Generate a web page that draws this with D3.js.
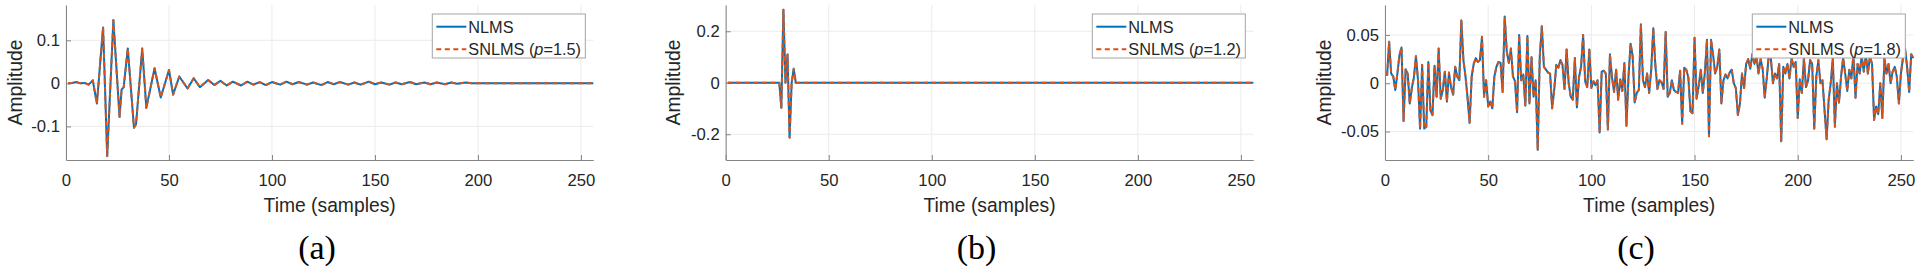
<!DOCTYPE html>
<html><head><meta charset="utf-8">
<script src="https://cdn.jsdelivr.net/npm/d3@7"></script>
<style>
body{margin:0;background:#fff}
svg{display:block}
text{font-family:"Liberation Sans",Arial,Helvetica,sans-serif;fill:#262626}
</style>
</head><body>
<svg id="chart" width="1920" height="274"></svg>
<script>
// ---------------- data ----------------
const xTicks = [0, 50, 100, 150, 200, 250];
const yTicksA = [-0.1, 0, 0.1];
const yTicksB = [-0.2, 0, 0.2];
const yTicksC = [-0.05, 0, 0.05];
const captions = ["(a)", "(b)", "(c)"];
const seriesNames = ["NLMS", "SNLMS"];
const pValues = ["1.5", "1.2", "1.8"];

// (a) sample index / amplitude (vertices)
const timeA = [1,3,5,7,9,11,13,15,18,20,23,26,27,28,30,33,34,37,39,43,46,50,52,55,59,62,65,69,72,75,78,81,85,88,91,94,97,100,104,107,110,113,117,120,124,127,130,133,137,140,143,147,150,153,157,160,163,167,170,174,177,180,184,187,190,194,197,256];
const nlmsA = [0,0.001,0.003,0,0.001,-0.003,0.007,-0.047,0.130,-0.169,0.147,-0.078,-0.014,-0.009,0.081,-0.103,-0.095,0.081,-0.057,0.035,-0.033,0.031,-0.026,0.016,-0.012,0.012,-0.009,0.008,-0.004,0.006,-0.005,0.004,-0.005,0.004,-0.003,0.003,-0.004,0.003,-0.003,0.004,-0.002,0.003,-0.003,0.002,-0.004,0.003,-0.002,0.003,-0.003,0.002,-0.003,0.004,-0.002,0.002,-0.003,0.002,-0.002,0.003,-0.002,0.002,-0.002,0.002,-0.002,0.002,-0.001,0.002,0,0];
const snlmsA = [0,0.001,0.003,0,0.001,-0.003,0.007,-0.047,0.130,-0.169,0.147,-0.078,-0.014,-0.009,0.081,-0.103,-0.095,0.081,-0.057,0.035,-0.033,0.031,-0.026,0.016,-0.012,0.012,-0.009,0.008,-0.004,0.006,-0.005,0.004,-0.005,0.004,-0.003,0.003,-0.004,0.003,-0.003,0.004,-0.002,0.003,-0.003,0.002,-0.004,0.003,-0.002,0.003,-0.003,0.002,-0.003,0.004,-0.002,0.002,-0.003,0.002,-0.002,0.003,-0.002,0.002,-0.002,0.002,-0.002,0.002,-0.001,0.002,0,0];

// (b)
const timeB = [1,26,27,28,29,30,31,32,33,34,256];
const nlmsB = [0,0,-0.097,0.284,0.0,0.11,-0.213,0.0,0.054,0,0];
const snlmsB = [0,0,-0.097,0.284,0.0,0.11,-0.213,0.0,0.054,0,0];

// (c) one value per sample, samples 1..256
const nlmsC = [0.0076,0.043,0.010,0.007,-0.007,0.010,0.029,0.037,-0.039,0.0145,0.0097,-0.021,-0.005,0.006,0.028,0.003,-0.047,0.019,-0.047,-0.045,0.022,-0.028,-0.033,0.018,-0.014,0.036,-0.016,-0.007,0.012,-0.019,0.011,-0.004,-0.012,0.017,0.007,0.003,0.065,0.024,0.007,-0.015,-0.041,0.007,0.020,0.026,0.022,0.024,0.048,-0.014,0.003,-0.024,-0.019,-0.026,0.007,0.017,0.022,0.021,-0.009,0.069,0.033,0.021,0.036,0.007,0.002,-0.030,0.050,0.003,0.009,-0.023,0.049,-0.021,0.027,-0.014,0.003,-0.069,0.028,0.059,0.017,0.014,0.011,0.010,-0.026,-0.007,0.019,0.016,0.024,0.019,-0.006,0.035,0.0,-0.014,-0.017,0.026,-0.025,0.006,0.017,0.050,0.002,-0.004,0.035,-0.005,0.002,-0.002,0.003,-0.051,0.012,0.013,0.010,-0.048,0.030,0.006,-0.009,0.014,-0.017,0.004,-0.008,0.021,-0.044,0.007,0.041,0.028,-0.020,-0.010,-0.007,0.061,0.003,-0.004,0.010,-0.010,0.014,0.057,0.019,-0.006,0.003,0.001,-0.006,0.053,-0.014,-0.010,0.003,-0.007,-0.009,-0.010,0.013,-0.042,0.016,0.014,0.006,-0.029,-0.031,0.047,-0.016,-0.003,0.014,-0.010,0.011,0.045,-0.055,0.045,0.029,0.010,0.017,0.035,-0.021,0.003,0.009,0.005,0.011,0.014,0.0,-0.005,-0.033,-0.021,0.010,-0.005,0.020,0.025,0.015,0.030,0.020,0.028,0.010,0.025,0.015,-0.015,0.005,0.030,0.025,0.000,0.010,0.005,0.020,-0.060,0.017,0.010,0.020,0.005,0.026,0.017,0.022,-0.036,0.004,-0.010,0.026,-0.004,0.003,0.024,0.020,-0.047,0.007,0.024,0.000,0.003,-0.028,-0.058,-0.017,0.000,0.026,-0.045,0.000,-0.020,0.007,0.026,0.010,-0.008,0.014,0.005,0.030,-0.015,0.020,0.010,0.028,0.012,0.030,0.010,0.028,0.020,-0.038,-0.024,-0.032,0.000,-0.036,0.026,0.010,0.020,0.000,0.012,0.017,0.007,-0.021,0.010,0.026,0.036,0.017,-0.009,0.030,0.026];
const snlmsC = [0.0076,0.043,0.010,0.007,-0.007,0.010,0.029,0.037,-0.039,0.0145,0.0097,-0.021,-0.005,0.006,0.028,0.003,-0.047,0.019,-0.047,-0.045,0.022,-0.028,-0.033,0.018,-0.014,0.036,-0.016,-0.007,0.012,-0.019,0.011,-0.004,-0.012,0.017,0.007,0.003,0.065,0.024,0.007,-0.015,-0.041,0.007,0.020,0.026,0.022,0.024,0.048,-0.014,0.003,-0.024,-0.019,-0.026,0.007,0.017,0.022,0.021,-0.009,0.069,0.033,0.021,0.036,0.007,0.002,-0.030,0.050,0.003,0.009,-0.023,0.049,-0.021,0.027,-0.014,0.003,-0.069,0.028,0.059,0.017,0.014,0.011,0.010,-0.026,-0.007,0.019,0.016,0.024,0.019,-0.006,0.035,0.0,-0.014,-0.017,0.026,-0.025,0.006,0.017,0.050,0.002,-0.004,0.035,-0.005,0.002,-0.002,0.003,-0.051,0.012,0.013,0.010,-0.048,0.030,0.006,-0.009,0.014,-0.017,0.004,-0.008,0.021,-0.044,0.007,0.041,0.028,-0.020,-0.010,-0.007,0.061,0.003,-0.004,0.010,-0.010,0.014,0.057,0.019,-0.006,0.003,0.001,-0.006,0.053,-0.014,-0.010,0.003,-0.007,-0.009,-0.010,0.013,-0.042,0.016,0.014,0.006,-0.029,-0.031,0.047,-0.016,-0.003,0.014,-0.010,0.011,0.045,-0.055,0.045,0.029,0.010,0.017,0.035,-0.021,0.003,0.009,0.005,0.011,0.014,0.0,-0.005,-0.033,-0.021,0.010,-0.005,0.020,0.025,0.015,0.030,0.020,0.028,0.010,0.025,0.015,-0.015,0.005,0.030,0.025,0.000,0.010,0.005,0.020,-0.060,0.017,0.010,0.020,0.005,0.026,0.017,0.022,-0.036,0.004,-0.010,0.026,-0.004,0.003,0.024,0.020,-0.047,0.007,0.024,0.000,0.003,-0.028,-0.058,-0.017,0.000,0.026,-0.045,0.000,-0.020,0.007,0.026,0.010,-0.008,0.014,0.005,0.030,-0.015,0.020,0.010,0.028,0.012,0.030,0.010,0.028,0.020,-0.038,-0.024,-0.032,0.000,-0.036,0.026,0.010,0.020,0.000,0.012,0.017,0.007,-0.021,0.010,0.026,0.036,0.017,-0.009,0.030,0.026];
const timeC = d3.range(1, nlmsC.length + 1);

// ---------------- layout ----------------
const svg = d3.select("#chart");
const COL_BLUE = "#0072BD", COL_RED = "#D95319";
const plotTop = 5, plotBottom = 160;
const LW = 2;

const panels = [
  {x0: 66, x1: 593.3, yDom: [-0.178, 0.182], yTicks: yTicksA, t: timeA, s1: nlmsA, s2: snlmsA, ylabX: 22, capX: 317},
  {x0: 725.7, x1: 1253.3, yDom: [-0.3, 0.302], yTicks: yTicksB, t: timeB, s1: nlmsB, s2: snlmsB, ylabX: 680, capX: 976.5},
  {x0: 1385, x1: 1913.3, yDom: [-0.0795, 0.081], yTicks: yTicksC, t: timeC, s1: nlmsC, s2: snlmsC, ylabX: 1330.5, capX: 1636}
];

panels.forEach((p, i) => {
  const x = d3.scaleLinear().domain([0, 256]).range([p.x0, p.x1]);
  const y = d3.scaleLinear().domain(p.yDom).range([plotBottom, plotTop]);
  const g = svg.append("g");

  // grid
  g.append("g").selectAll("line").data(xTicks).join("line")
    .attr("x1", d => x(d)).attr("x2", d => x(d)).attr("y1", plotTop).attr("y2", plotBottom)
    .attr("stroke", "#ebebeb").attr("stroke-width", 1);
  g.append("g").selectAll("line").data(p.yTicks).join("line")
    .attr("x1", p.x0).attr("x2", p.x1).attr("y1", d => y(d)).attr("y2", d => y(d))
    .attr("stroke", "#ebebeb").attr("stroke-width", 1);

  // axes
  const fmt = d => d === 0 ? "0" : String(d);
  const xa = g.append("g").attr("transform", `translate(0,${plotBottom})`)
    .call(d3.axisBottom(x).tickValues(xTicks).tickSizeInner(-5).tickSizeOuter(0).tickPadding(0).tickFormat(d => d));
  xa.select(".domain").attr("stroke", "#858585");
  xa.selectAll(".tick line").attr("stroke", "#858585");
  xa.selectAll(".tick text").attr("y", 26).attr("dy", 0)
    .style("font-size", "16.7px").style("fill", "#262626");

  const ya = g.append("g").attr("transform", `translate(${p.x0},0)`)
    .call(d3.axisLeft(y).tickValues(p.yTicks).tickSizeInner(-5).tickSizeOuter(0).tickPadding(6).tickFormat(fmt));
  ya.select(".domain").attr("stroke", "#858585");
  ya.selectAll(".tick line").attr("stroke", "#858585");
  ya.selectAll(".tick text").style("font-size", "16.7px").style("fill", "#262626");

  // data
  const pts1 = p.t.map((t, k) => [t, p.s1[k]]);
  const pts2 = p.t.map((t, k) => [t, p.s2[k]]);
  const line = d3.line().x(d => x(d[0])).y(d => y(d[1]));
  g.append("path").attr("d", line(pts1)).attr("fill", "none")
    .attr("stroke", COL_BLUE).attr("stroke-width", LW).attr("stroke-linejoin", "round");
  g.append("path").attr("d", line(pts2)).attr("fill", "none")
    .attr("stroke", COL_RED).attr("stroke-width", LW).attr("stroke-dasharray", "5,3.5").attr("stroke-linejoin", "round");

  // labels
  g.append("text").attr("x", (p.x0 + p.x1) / 2).attr("y", 211.5).attr("text-anchor", "middle")
    .style("font-size", "19.3px").text("Time (samples)");
  g.append("text").attr("transform", `translate(${p.ylabX},${(plotTop + plotBottom) / 2}) rotate(-90)`)
    .attr("text-anchor", "middle").style("font-size", "19.3px").text("Amplitude");
  g.append("text").attr("x", p.capX).attr("y", 259).attr("text-anchor", "middle")
    .style("font-family", "'Liberation Serif','Times New Roman',serif").style("font-size", "34px").style("fill", "#000")
    .text(captions[i]);

  // legend
  const lx = p.x1 - 8 - 153, ly = plotTop + 9;
  const lg = g.append("g");
  lg.append("rect").attr("x", lx).attr("y", ly).attr("width", 153).attr("height", 44)
    .attr("fill", "#fff").attr("stroke", "#a6a6a6").attr("stroke-width", 1);
  [[COL_BLUE, null, seriesNames[0]], [COL_RED, "5,3.5", seriesNames[1]]].forEach((e, k) => {
    const cy = ly + 12.7 + k * 22.6;
    const l = lg.append("line").attr("x1", lx + 4).attr("x2", lx + 34).attr("y1", cy).attr("y2", cy)
      .attr("stroke", e[0]).attr("stroke-width", LW);
    if (e[1]) l.attr("stroke-dasharray", e[1]);
    const t = lg.append("text").attr("x", lx + 36).attr("y", cy + 5.8).style("font-size", "16.3px");
    if (k === 0) t.text(e[2]);
    else {
      t.append("tspan").text(e[2] + " (");
      t.append("tspan").style("font-style", "italic").text("p");
      t.append("tspan").text("=" + pValues[i] + ")");
    }
  });
});
</script>
</body></html>
